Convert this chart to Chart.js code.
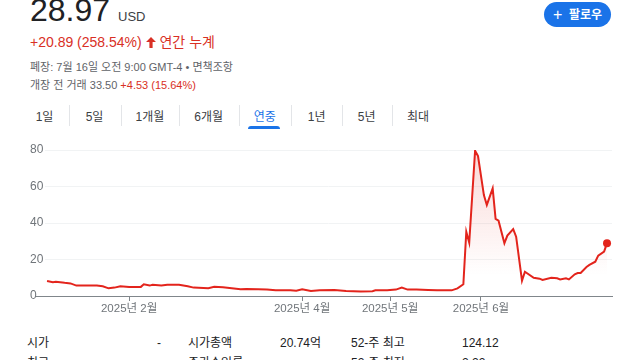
<!DOCTYPE html>
<html>
<head>
<meta charset="utf-8">
<script src="https://cdn.jsdelivr.net/npm/chart.js@4/dist/chart.umd.min.js"></script>
<style>
  html, body { margin:0; padding:0; background:#fff; width:640px; height:360px; overflow:hidden; }
  body { font-family: 'Liberation Sans', 'Noto Sans CJK KR', sans-serif; color:#202124; position:relative; }
  .t { position:absolute; white-space:nowrap; line-height:1; }
  .red { color:#d93025; }
  .gray { color:#5f6368; }
  .tab { position:absolute; width:60px; text-align:center; font-size:12px; line-height:1; top:111px; color:#3c4043; }
  .sep { position:absolute; top:105px; width:1px; height:21px; background:#e3e5e8; }
  #chartBox { position:absolute; left:0; top:140px; width:640px; height:180px; }
  .st { position:absolute; font-size:12px; line-height:1; white-space:nowrap; color:#202124; }
</style>
</head>
<body>
<div class="t" style="left:30px; top:-6px; font-size:32px;">28.97</div>
<div class="t" style="left:118px; top:10px; font-size:13px; color:#3c4043;">USD</div>
<div class="t red" style="left:30px; top:35px; font-size:14px;">+20.89 (258.54%) <svg width="10" height="11" viewBox="0 0 10 11" style="vertical-align:-1px"><path d="M5 0 L10 5 L6.6 5 L6.6 11 L3.4 11 L3.4 5 L0 5 Z" fill="#d93025"/></svg> 연간 누계</div>
<div class="t gray" style="left:30px; top:62px; font-size:11px;">폐장: 7월 16일 오전 9:00 GMT-4 • 면책조항</div>
<div class="t gray" style="left:30px; top:80px; font-size:11px;">개장 전 거래 33.50 <span class="red">+4.53 (15.64%)</span></div>

<div style="position:absolute; left:544px; top:2px; width:67px; height:25px; border-radius:13px; background:#1a73e8; color:#fff; font-size:12px; font-weight:bold; line-height:25px; text-align:center;"><span style="font-size:16px; font-weight:normal; vertical-align:-1px;">+</span>&nbsp; 팔로우</div>

<div class="tab" style="left:14.5px;">1일</div>
<div class="sep" style="left:69px;"></div>
<div class="tab" style="left:64.5px;">5일</div>
<div class="sep" style="left:121px;"></div>
<div class="tab" style="left:120px;">1개월</div>
<div class="sep" style="left:179px;"></div>
<div class="tab" style="left:178.7px;">6개월</div>
<div class="sep" style="left:239px;"></div>
<div class="tab" style="left:234.7px; color:#1a73e8;">연중</div>
<div style="position:absolute; left:248px; top:126px; width:32px; height:3px; border-radius:3px 3px 0 0; background:#1a73e8;"></div>
<div class="sep" style="left:291px;"></div>
<div class="tab" style="left:286.7px;">1년</div>
<div class="sep" style="left:342px;"></div>
<div class="tab" style="left:336.7px;">5년</div>
<div class="sep" style="left:392px;"></div>
<div class="tab" style="left:388px;">최대</div>

<div id="chartBox"><canvas id="c" width="640" height="180"></canvas></div>

<div class="st" style="left:27px; top:337px;">시가</div>
<div class="st" style="left:157px; top:337px;">-</div>
<div class="st" style="left:188px; top:337px;">시가총액</div>
<div class="st" style="left:280px; top:337px;">20.74억</div>
<div class="st" style="left:351px; top:337px;">52-주 최고</div>
<div class="st" style="left:462px; top:337px;">124.12</div>
<div class="st" style="left:27px; top:357px;">최고</div>
<div class="st" style="left:188px; top:357px;">주가수익률</div>
<div class="st" style="left:351px; top:357px;">52-주 최저</div>
<div class="st" style="left:462px; top:357px;">2.22</div>

<script>
// Day of year (Jan 1 = 0) and closing prices
const days = [3, 5, 6, 9, 11, 13, 17, 20, 22, 24, 26, 28, 31, 35, 36, 38, 39, 42, 44, 48,
  51, 53, 58, 60, 63, 66, 69, 71, 75, 78, 81, 86, 88, 90, 93, 96, 101, 105, 110, 114,
  115, 119, 122, 124, 126, 129, 133, 136, 141, 143, 145, 146, 147, 149, 150, 152, 153, 155, 156, 157,
  159, 160, 162, 163, 165, 166, 169, 171, 172, 175, 177, 178, 180, 181, 183, 184, 185, 187, 188, 190,
  191, 193, 194];
const prices = [8.2, 7.5, 7.8, 7.2, 6.9, 5.7, 5.8, 5.7, 5.3, 4.2, 4.6, 5.3, 5.0, 5.0, 6.4, 5.7, 6.1, 5.7, 6.1, 6.1,
  5.3, 4.6, 4.2, 5.1, 4.8, 4.2, 3.7, 3.8, 3.7, 3.5, 3.1, 3.1, 2.9, 3.7, 2.7, 3.1, 3.3, 2.7, 2.4, 2.6,
  3.1, 3.1, 3.5, 4.6, 3.5, 3.5, 3.3, 3.1, 3.1, 4.2, 6.4, 35.2, 29.2, 79.6, 76.7, 55.3, 49.9, 59.0, 42.2, 41.3,
  28.9, 33.1, 36.7, 32.5, 8.4, 13.3, 10.0, 9.5, 8.8, 10.0, 9.7, 9.1, 9.7, 9.1, 11.9, 12.6, 12.6, 15.9, 17.0, 18.8,
  22.1, 24.3, 28.97];
const tickDays = [31, 90, 120, 151];
const tickLabels = ['2025년 2월', '2025년 4월', '2025년 5월', '2025년 6월'];
const yTicks = [0, 20, 40, 60, 80];

const RED = '#e3241c';
const AXIS = '#80868b';
Chart.defaults.font.family = "'Liberation Sans','Noto Sans CJK KR',sans-serif";

const points = days.map((d, i) => ({ x: d, y: prices[i] }));

new Chart(document.getElementById('c'), {
  type: 'line',
  data: {
    datasets: [{
      data: points,
      borderColor: RED,
      borderWidth: 2,
      tension: 0,
      fill: 'origin',
      backgroundColor: (ctx) => {
        const ca = ctx.chart.chartArea;
        if (!ca) return 'rgba(0,0,0,0)';
        const g = ctx.chart.ctx.createLinearGradient(0, ca.top, 0, ca.top + 125);
        g.addColorStop(0, 'rgba(226,40,30,0.18)');
        g.addColorStop(1, 'rgba(226,40,30,0)');
        return g;
      },
      pointRadius: (ctx) => ctx.dataIndex === prices.length - 1 ? 4 : 0,
      pointHoverRadius: 0,
      pointBackgroundColor: RED,
      pointBorderColor: RED,
      pointBorderWidth: 0
    }]
  },
  options: {
    responsive: false,
    animation: false,
    devicePixelRatio: 1,
    layout: { padding: { left: 30, right: 28, top: 10, bottom: 0 } },
    plugins: { legend: { display: false }, tooltip: { enabled: false } },
    scales: {
      x: {
        type: 'linear',
        min: 2.3,
        max: 195.7,
        afterFit: (s) => { s.height = 24; },
        afterBuildTicks: (s) => { s.ticks = tickDays.map(v => ({ value: v })); },
        ticks: {
          autoSkip: false,
          maxRotation: 0,
          padding: 1,
          color: '#70757a',
          font: { size: 11.5 },
          callback: (v) => { const i = tickDays.indexOf(v); return i >= 0 ? tickLabels[i] : ''; }
        },
        grid: { drawOnChartArea: false, drawTicks: true, tickLength: 5, color: AXIS },
        border: { display: true, color: AXIS, width: 1 }
      },
      y: {
        min: 0,
        max: 80,
        afterFit: (s) => { s.width = 15; },
        afterBuildTicks: (s) => { s.ticks = yTicks.map(v => ({ value: v })); },
        ticks: {
          crossAlign: 'far',
          color: '#70757a',
          font: { size: 12 },
          padding: 0
        },
        grid: {
          drawTicks: true,
          tickLength: 9,
          color: (c) => c.tick && c.tick.value === 0 ? AXIS : '#f1f3f4',
          tickColor: (c) => c.tick && c.tick.value === 0 ? AXIS : 'rgba(0,0,0,0)'
        },
        border: { display: false }
      }
    }
  }
});
</script>
</body>
</html>
